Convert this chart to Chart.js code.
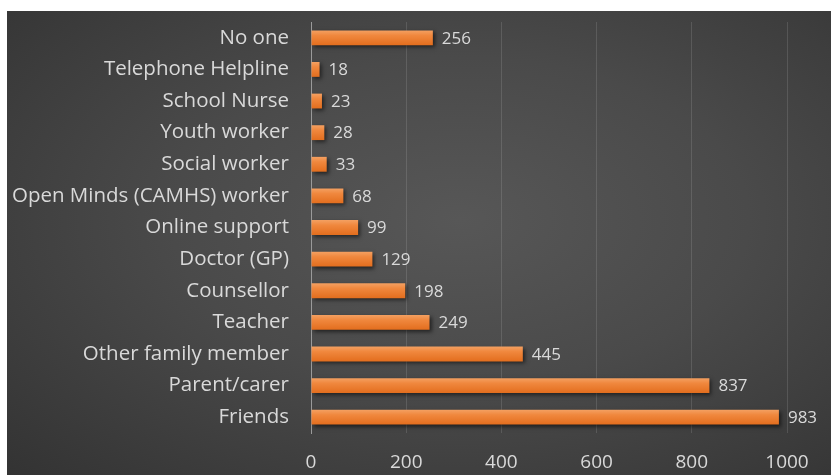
<!DOCTYPE html>
<html>
<head>
<meta charset="utf-8">
<script src="https://cdn.jsdelivr.net/npm/chart.js@4.4.1/dist/chart.umd.min.js"></script>
<style>
  html, body { margin: 0; padding: 0; background: #fff; }
  #wrap {
    position: absolute; left: 7px; top: 11px; width: 824px; height: 464px;
    background: radial-gradient(ellipse at 55% 45%, #575757 0%, #4a4a4a 45%, #333 100%);
  }
  canvas { display: block; }
</style>
</head>
<body>
<div id="wrap"><canvas id="helpChart" width="824" height="464"></canvas></div>
<script>
// who young people would talk to
const categories = [
  "No one", "Telephone Helpline", "School Nurse", "Youth worker", "Social worker",
  "Open Minds (CAMHS) worker", "Online support", "Doctor (GP)", "Counsellor",
  "Teacher", "Other family member", "Parent/carer", "Friends"
];
const counts = [256, 18, 23, 28, 33, 68, 99, 129, 198, 249, 445, 837, 983];
const xTicks = [0, 200, 400, 600, 800, 1000];

const FONT = "'Open Sans', sans-serif";
const TEXT = "#d9d9d9";

// per-bar vertical gradient, lighter on the top edge
function barFill(ctx) {
  const chart = ctx.chart;
  const y = chart.scales.y;
  if (!chart.chartArea || !y || ctx.dataIndex === undefined) return "#ed7d31";
  const cy = y.getPixelForValue(ctx.dataIndex);
  const half = 8;
  const g = chart.ctx.createLinearGradient(0, cy - half, 0, cy + half);
  g.addColorStop(0, "#f4a366");
  g.addColorStop(0.35, "#f0883e");
  g.addColorStop(1, "#e26c1c");
  return g;
}

const barShadow = {
  id: "barShadow",
  beforeDatasetsDraw(chart) {
    const c = chart.ctx;
    c.save();
    c.shadowColor = "rgba(0,0,0,0.55)";
    c.shadowBlur = 4;
    c.shadowOffsetX = 2;
    c.shadowOffsetY = 2;
  },
  afterDatasetsDraw(chart) {
    chart.ctx.restore();
  }
};

const valueLabels = {
  id: "valueLabels",
  afterDatasetsDraw(chart) {
    const c = chart.ctx;
    const meta = chart.getDatasetMeta(0);
    c.save();
    c.font = "17px " + FONT;
    c.fillStyle = TEXT;
    c.textAlign = "left";
    c.textBaseline = "middle";
    meta.data.forEach((bar, i) => {
      c.fillText(String(counts[i]), bar.x + 9, bar.y + 1);
    });
    c.restore();
  }
};

new Chart(document.getElementById("helpChart"), {
  type: "bar",
  data: {
    labels: categories,
    datasets: [{
      data: counts,
      backgroundColor: barFill,
      borderWidth: 0,
      categoryPercentage: 1,
      barPercentage: 0.47
    }]
  },
  options: {
    indexAxis: "y",
    responsive: false,
    animation: false,
    layout: { padding: { top: 11, right: 44, left: 0, bottom: 0 } },
    plugins: { legend: { display: false }, tooltip: { enabled: false } },
    scales: {
      x: {
        min: 0,
        max: 1000,
        afterBuildTicks(axis) { axis.ticks = xTicks.map(v => ({ value: v })); },
        afterFit(axis) {
          axis.height = 42;
          axis.paddingLeft = 0;
          axis.paddingRight = 0;
        },
        grid: { color: "rgba(255,255,255,0.12)", lineWidth: 1, drawTicks: false },
        border: { display: false },
        ticks: {
          color: TEXT,
          font: { family: FONT, size: 19 },
          padding: 18,
          maxRotation: 0,
          callback: v => String(v)
        }
      },
      y: {
        afterFit(axis) {
          axis.width = 304;
          axis.paddingTop = 0;
          axis.paddingBottom = 0;
        },
        grid: { display: false, drawTicks: false },
        border: { display: true, color: "#9a9a9a", width: 1 },
        ticks: { color: TEXT, font: { family: FONT, size: 20.5 }, padding: 22 }
      }
    }
  },
  plugins: [barShadow, valueLabels]
});
</script>
</body>
</html>
